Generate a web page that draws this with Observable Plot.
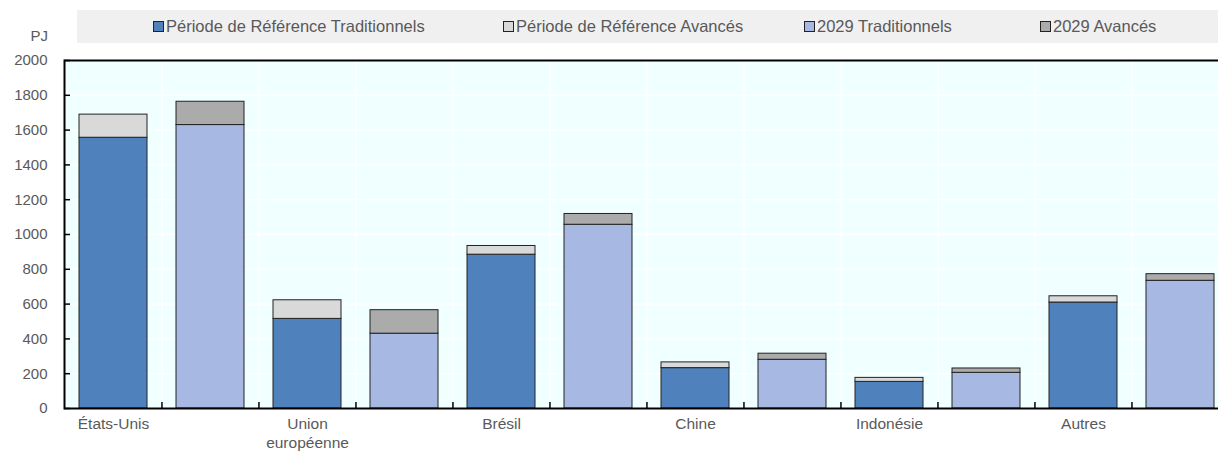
<!DOCTYPE html>
<html>
<head>
<meta charset="utf-8">
<script src="https://cdn.jsdelivr.net/npm/d3@7"></script>
<script src="https://cdn.jsdelivr.net/npm/@observablehq/plot@0.6"></script>
<style>
  html, body { margin: 0; padding: 0; overflow: hidden; background: #fff; }
  body { font-family: "Liberation Sans", Arial, sans-serif; }
  #wrap { position: relative; width: 1218px; height: 455px; overflow: hidden; }
  #legend { position: absolute; left: 77px; top: 10px; width: 1141px; height: 33px; background: #f0f0f0; }
  .item { position: absolute; top: 0; height: 33px; display: flex; align-items: center; font-size: 16.5px; color: #595959; white-space: nowrap; }
  .sw { width: 9px; height: 9px; border: 1px solid #222; margin-right: 2px; }
  #pj { position: absolute; right: calc(1218px - 48px); top: 27px; font-size: 15px; color: #595959; }
  #chart { position: absolute; left: 0; top: 0; }
  #chart svg { max-width: none !important; }
</style>
</head>
<body>
<div id="wrap">
  <div id="chart"></div>
  <div id="legend"></div>
  <div id="pj">PJ</div>
</div>
<script>
// ---- Data ----
const regions = ["États-Unis", "Union européenne", "Brésil", "Chine", "Indonésie", "Autres"];
const regionLabels = ["États-Unis", "Union\neuropéenne", "Brésil", "Chine", "Indonésie", "Autres"];
const seriesNames = ["Période de Référence Traditionnels", "Période de Référence Avancés", "2029 Traditionnels", "2029 Avancés"];
const seriesColors = ["#4f81bd", "#d9d9d9", "#a7b9e3", "#ababab"];
const baseTrad = [1556, 515, 884, 232, 153, 609];
const baseAdv = [133, 107, 50, 33, 23, 36];
const trad2029 = [1629, 430, 1056, 280, 205, 734];
const adv2029 = [134, 135, 62, 35, 25, 38];
const yTicks = [0, 200, 400, 600, 800, 1000, 1200, 1400, 1600, 1800, 2000];
const legendLeft = [153, 503, 804, 1040];

// ---- Build table ----
const keys = [];
const rows = [];
regions.forEach((r, i) => {
  const kb = r + "|base", k29 = r + "|2029";
  keys.push(kb, k29);
  rows.push({key: kb, series: seriesNames[0], value: baseTrad[i]});
  rows.push({key: kb, series: seriesNames[1], value: baseAdv[i]});
  rows.push({key: k29, series: seriesNames[2], value: trad2029[i]});
  rows.push({key: k29, series: seriesNames[3], value: adv2029[i]});
});
const labelOf = new Map(regions.map((r, i) => [r + "|base", regionLabels[i]]));

const width = 1229, height = 455;
const mL = 64, mR = 0, mT = 60, mB = 47;
const innerW = width - mL - mR, innerH = height - mT - mB;
const step = innerW / keys.length;
const pad = 0.295;

const chart = Plot.plot({
  width, height,
  marginLeft: mL, marginRight: mR, marginTop: mT, marginBottom: mB,
  style: {fontFamily: "'Liberation Sans', Arial, sans-serif", fontSize: "15px", background: "transparent", maxWidth: "none"},
  x: {domain: keys, paddingInner: pad, paddingOuter: pad / 2, align: 0.5, axis: null},
  y: {domain: [0, 2000], axis: null},
  color: {domain: seriesNames, range: seriesColors},
  marks: [
    Plot.frame({fill: "#f0ffff", stroke: null}),
    Plot.ruleY(yTicks.slice(1, -1), {stroke: "white", strokeWidth: 1.5}),
    Plot.ruleX(keys.slice(1), {x: d => d, dx: -step / 2, stroke: "white", strokeWidth: 1.5}),
    Plot.barY(rows, Plot.stackY({x: "key", y: "value", fill: "series", stroke: "#222", strokeWidth: 1})),
    Plot.ruleX(keys.slice(1), {x: d => d, dx: -step / 2, stroke: "black", strokeWidth: 1.5, insetTop: innerH - 6}),
    Plot.tickY(yTicks, {y: d => d, stroke: "black", strokeWidth: 1.5, insetRight: innerW - 6}),
    Plot.frame({stroke: "black", strokeWidth: 2}),
    Plot.axisY({ticks: yTicks, tickSize: 0, tickPadding: 17, tickFormat: d => String(d), fontSize: 15, color: "#595959", label: null}),
    Plot.axisX({tickSize: 0, tickPadding: 7, tickFormat: k => labelOf.get(k) || "", fontSize: 15.5, color: "#595959", lineHeight: 1.22, label: null})
  ]
});
chart.style.maxWidth = "none";
document.getElementById("chart").appendChild(chart);

// ---- Legend ----
const legend = document.getElementById("legend");
seriesNames.forEach((name, i) => {
  const it = document.createElement("div");
  it.className = "item";
  it.style.left = (legendLeft[i] - 77) + "px";
  const sw = document.createElement("div");
  sw.className = "sw";
  sw.style.background = seriesColors[i];
  it.appendChild(sw);
  it.appendChild(document.createTextNode(name));
  legend.appendChild(it);
});
</script>
</body>
</html>
